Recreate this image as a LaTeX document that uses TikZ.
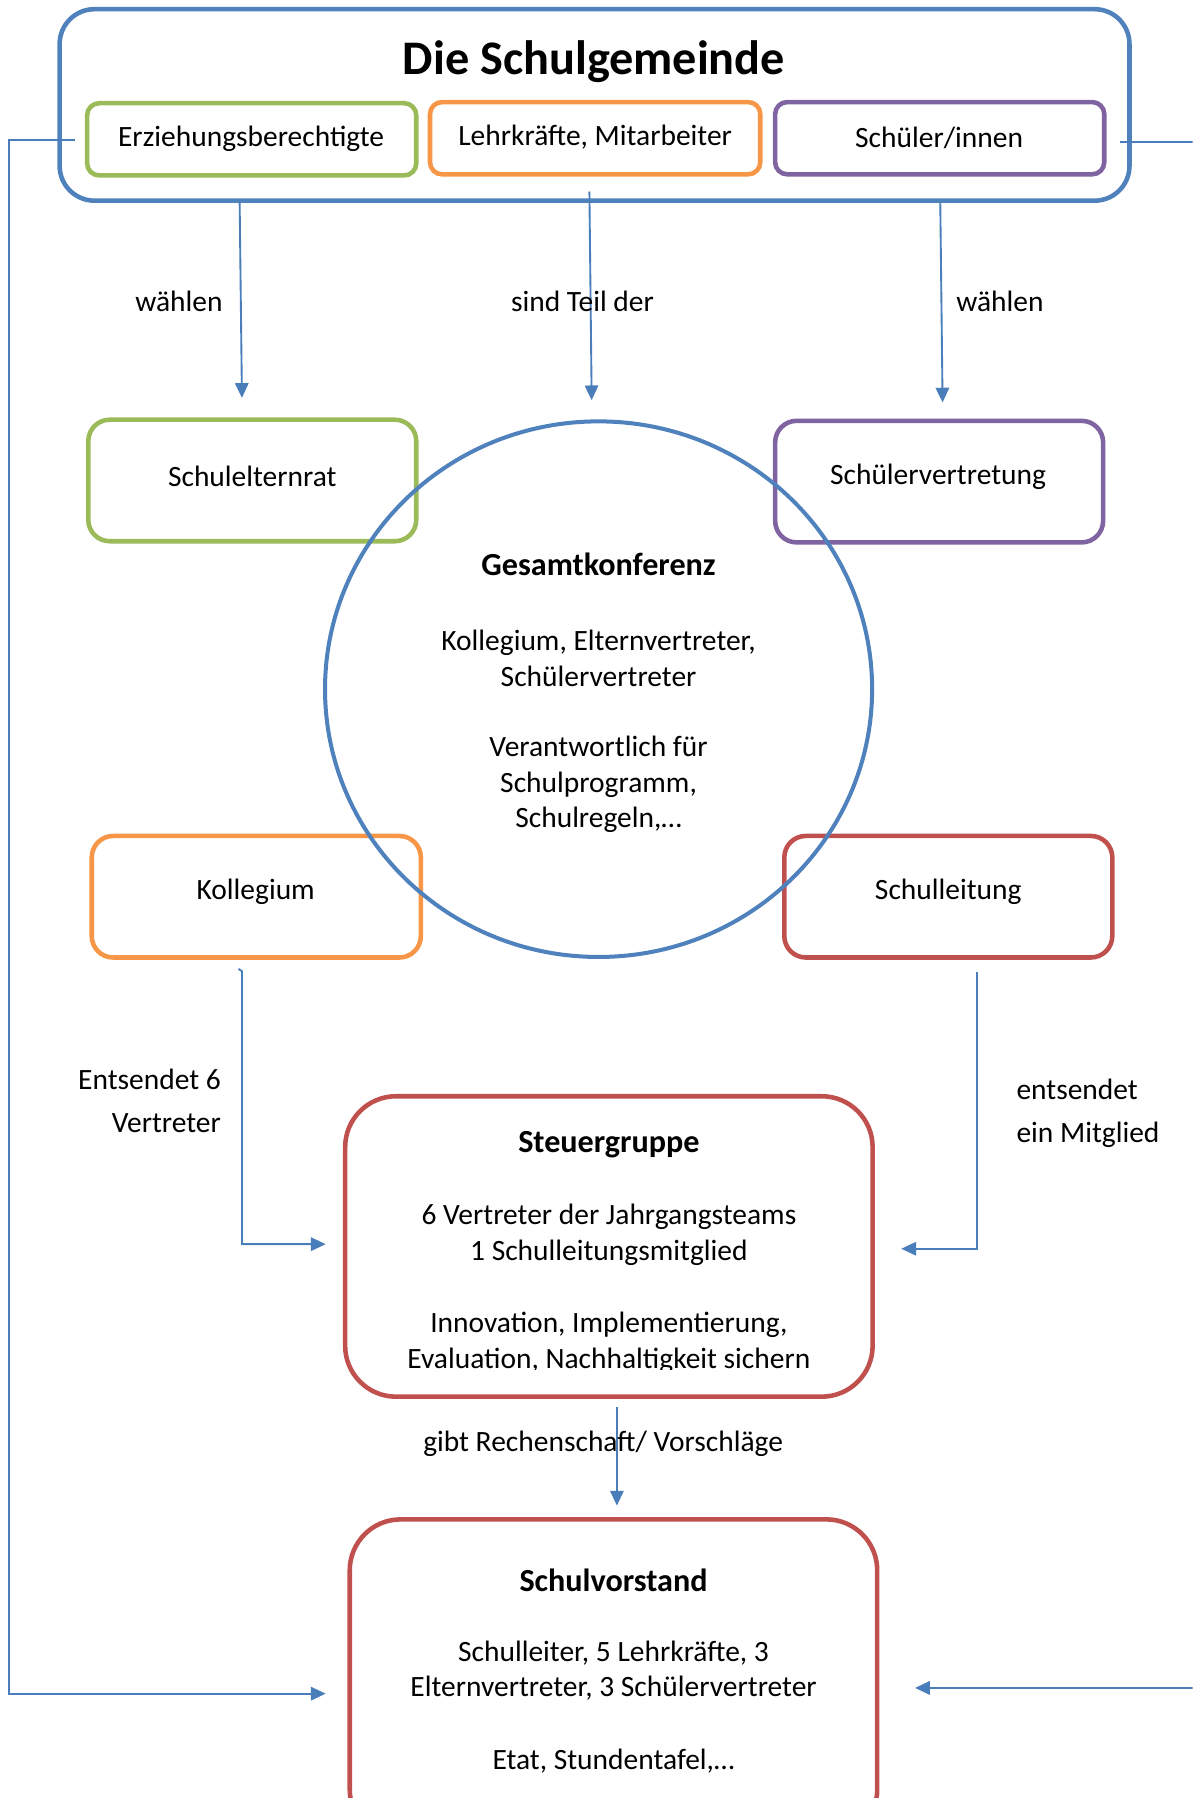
\documentclass[tikz,border=0pt]{standalone}
\usepackage{fontspec}
\setmainfont{Carlito}
\usetikzlibrary{arrows.meta,shapes.geometric,fit}
\definecolor{cblue}{HTML}{4F81BD}
\definecolor{cgreen}{HTML}{9BBB59}
\definecolor{corange}{HTML}{F79646}
\definecolor{cpurple}{HTML}{8064A2}
\definecolor{cred}{HTML}{C0504D}
\definecolor{cline}{HTML}{4A7EBB}
\begin{document}
\begin{tikzpicture}[x=0.428pt,y=-0.428pt,
  txt/.style={inner sep=0pt, font=\fontsize{11}{13.3}\selectfont, align=center},
  btxt/.style={txt, font=\fontsize{12}{14}\selectfont\bfseries},
  frame/.style={draw=#1, line width=1.7pt, inner sep=0pt},
  smallbox/.style={frame=#1, rounded corners=4.5pt},
  midbox/.style={frame=#1, rounded corners=8pt},
  bigbox/.style={frame=#1, rounded corners=19pt},
  conn/.style={draw=cline, line width=0.7pt},
  arr/.style={conn, -{Triangle[width=5pt,length=5.5pt]}}
]
\useasboundingbox (0,0) rectangle (1040,1568);
\clip (0,0) rectangle (1040,1568);

% --- Schulgemeinde
\node[frame=cblue, rounded corners=13pt, fit={(52,8)(985,175)}] (sg) {};
\node[inner sep=0pt, font=\fontsize{18}{22}\selectfont\bfseries] (title) at (518,54) {Die Schulgemeinde};
\node[smallbox=cgreen, fit={(76,90)(363,153)}] (eb) {};
\node[txt] (ebt) at (219,121) {Erziehungsberechtigte};
\node[smallbox=corange, fit={(375,89)(663,152)}] (lk) {};
\node[txt] (lkt) at (519,120) {Lehrkräfte, Mitarbeiter};
\node[smallbox=cpurple, fit={(676,89)(963,152)}] (si) {};
\node[txt] (sit) at (819,120) {Schüler/innen};

% --- middle boxes
\node[midbox=cgreen, fit={(77,366)(363,472)}] (ser) {};
\node[txt] (sert) at (220,415) {Schulelternrat};
\node[midbox=cpurple, fit={(676,367)(962,473)}] (sv) {};
\node[txt] (svt) at (818,416) {Schülervertretung};
\node[midbox=corange, fit={(80,729)(367,835)}] (kol) {};
\node[txt] (kolt) at (223,778) {Kollegium};
\node[midbox=cred, fit={(684,729)(970,835)}] (sl) {};
\node[txt] (slt) at (827,778) {Schulleitung};

% --- Gesamtkonferenz
\node[ellipse, draw=cblue, line width=1.5pt, inner sep=0pt,
      minimum width=204.2pt, minimum height=199.9pt] (gk) at (522,601) {};
\node[btxt] (gk1) at (522,492) {Gesamtkonferenz};
\node[txt] (gk2) at (522,574) {Kollegium, Elternvertreter,\\Schülervertreter};
\node[txt] (gk3) at (522,684) {Verantwortlich für\\Schulprogramm,\\Schulregeln,…};

% --- Steuergruppe
\node[bigbox=cred, fit={(301,956)(761,1218)}] (stg) {};
\node[btxt] (stg1) at (531,998) {Steuergruppe};
\node[txt] (stg2) at (531,1077) {6 Vertreter der Jahrgangsteams\\1 Schulleitungsmitglied};
\begin{scope}
  \clip (301,1130) rectangle (761,1194);
  \node[txt] (stg3) at (531,1171) {Innovation, Implementierung,\\Evaluation, Nachhaltigkeit sichern};
\end{scope}

% --- Schulvorstand
\node[bigbox=cred, fit={(305,1325)(765,1605)}] (svs) {};
\node[btxt] (svs1) at (535,1378) {Schulvorstand};
\node[txt] (svs2) at (535,1457) {Schulleiter, 5 Lehrkräfte, 3\\Elternvertreter, 3 Schülervertreter};
\node[txt] (svs3) at (535,1536) {Etat, Stundentafel,…};

% --- connectors
\coordinate (a1s) at (209,177); \coordinate (a1e) at (211,347);
\coordinate (a2s) at (514,167); \coordinate (a2e) at (516,349);
\coordinate (a3s) at (820,177); \coordinate (a3e) at (822,351);
\draw[arr] (a1s) -- (a1e);
\draw[arr] (a2s) -- (a2e);
\draw[arr] (a3s) -- (a3e);
\node[txt] (l1) at (156,263) {wählen};
\node[txt] (l2) at (508,263) {sind Teil der};
\node[txt] (l3) at (872,263) {wählen};

\coordinate (lls) at (65,122); \coordinate (lle) at (284,1477);
\draw[arr] (lls) -- (8,122) -- (8,1477) -- (lle);
\coordinate (rls) at (977,124); \coordinate (rle) at (798,1472);
\draw[arr] (rls) -- (1060,124) -- (1060,1472) -- (rle);

\coordinate (ks) at (208,845); \coordinate (ke) at (284,1085);
\draw[arr] (ks) -- (211,847) -- (211,1085) -- (ke);
\node[txt, align=right, anchor=east, font=\fontsize{11}{15.8}\selectfont] (l4) at (193,960) {Entsendet 6\\Vertreter};

\coordinate (ss) at (852,848); \coordinate (se) at (786,1089);
\draw[arr] (ss) -- (852,1089) -- (se);
\node[txt, align=left, anchor=west, font=\fontsize{11}{15.8}\selectfont] (l5) at (886,971) {entsendet\\ein Mitglied};

\coordinate (vs) at (538,1227); \coordinate (ve) at (538,1313);
\draw[arr] (vs) -- (ve);
\node[txt] (l6) at (526,1259) {gibt Rechenschaft/ Vorschläge};
\end{tikzpicture}
\end{document}
